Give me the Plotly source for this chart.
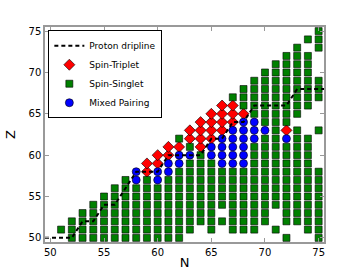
import plotly.graph_objects as go

# ---- data ----
# Spin-Singlet (green squares): Z values per neutron number N
singlet_N = [51, 52, 53, 54, 55, 56, 57, 58, 59, 60, 61, 62, 63, 64, 65, 66, 67, 68, 69, 70, 71, 72, 73, 74, 75]
singlet_Z = [
    [51],
    [50, 51, 52],
    [50, 51, 52, 53],
    [50, 51, 52, 53, 54],
    [50, 51, 52, 53, 54, 55],
    [50, 51, 52, 53, 54, 55, 56],
    [50, 51, 52, 53, 54, 55, 56, 57],
    [50, 51, 52, 53, 54, 55, 56],
    [50, 51, 52, 53, 54, 55, 56, 57],
    [50, 51, 52, 53, 54, 55, 56],
    [50, 51, 52, 53, 54, 55, 56, 57],
    [50, 51, 52, 53, 54, 55, 56, 57, 58, 62],
    [51, 52, 53, 54, 55, 56, 57, 58, 59, 61],
    [52, 53, 54, 55, 56, 57, 58, 59, 60],
    [51, 52, 53, 54, 55, 56, 57, 58, 59],
    [52, 54, 55, 56, 57, 58],
    [51, 52, 53, 54, 55, 56, 57, 58, 67],
    [51, 52, 53, 54, 55, 56, 57, 58, 66, 67, 68],
    [51, 52, 53, 54, 55, 56, 57, 58, 59, 60, 61, 65, 66, 67, 68, 69],
    [52, 53, 54, 55, 56, 57, 58, 59, 60, 61, 62, 64, 65, 66, 67, 68, 69, 70],
    [51, 54, 55, 56, 57, 58, 59, 60, 61, 62, 63, 64, 65, 66, 67, 68, 69, 70, 71],
    [50, 52, 53, 54, 55, 56, 57, 58, 59, 60, 61, 64, 65, 66, 67, 68, 69, 70, 71, 72],
    [52, 53, 54, 55, 56, 57, 58, 59, 60, 61, 62, 63, 65, 66, 67, 68, 69, 70, 71, 72, 73],
    [51, 52, 53, 54, 55, 56, 57, 58, 59, 60, 61, 62, 66, 67, 68, 69, 70, 71, 72, 74],
    [50, 51, 52, 53, 54, 55, 56, 57, 58, 63, 67, 68, 69, 73, 74, 75],
]

# Spin-Triplet (red diamonds)
triplet_N = [59, 59, 60, 60, 61, 61, 62, 63, 63, 64, 64, 64, 64, 65, 65, 65, 65,
             66, 66, 66, 66, 67, 67, 67, 68, 72]
triplet_Z = [58, 59, 59, 60, 60, 61, 61, 62, 63, 61, 62, 63, 64, 62, 63, 64, 65,
             63, 64, 65, 66, 64, 65, 66, 65, 63]

# Mixed Pairing (blue circles)
mixed_N = [58, 58, 60, 60, 61, 61, 62, 62, 63, 65, 65, 66, 66, 66, 66,
           67, 67, 67, 67, 67, 68, 68, 68, 68, 68, 68, 69, 69, 69, 70, 72]
mixed_Z = [57, 58, 57, 58, 58, 59, 59, 60, 60, 60, 61, 59, 60, 61, 62,
           59, 60, 61, 62, 63, 59, 60, 61, 62, 63, 64, 62, 63, 64, 63, 62]

# Proton dripline (step-like dashed line)
drip_N = [49.5, 52, 53, 54, 55, 56, 58, 60, 61, 64, 65, 66, 67, 68, 69, 72, 73, 75.5]
drip_Z = [50, 50, 52, 52, 54, 54, 58, 58, 60, 60, 62, 62, 64, 64, 66, 66, 68, 68]

ticks = [50, 55, 60, 65, 70, 75]

sx, sy = [], []
for n, zs in zip(singlet_N, singlet_Z):
    for z in zs:
        sx.append(n)
        sy.append(z)

fig = go.Figure()
fig.add_trace(go.Scatter(
    x=triplet_N, y=triplet_Z, mode="markers", name="Spin-Triplet", legendrank=2,
    marker=dict(symbol="diamond", size=8.5, color="#ff0000", line=dict(color="black", width=0.6))))
fig.add_trace(go.Scatter(
    x=sx, y=sy, mode="markers", name="Spin-Singlet", legendrank=3,
    marker=dict(symbol="square", size=7, color="#008000", line=dict(color="black", width=0.6))))
fig.add_trace(go.Scatter(
    x=mixed_N, y=mixed_Z, mode="markers", name="Mixed Pairing", legendrank=4,
    marker=dict(symbol="circle", size=8, color="#0000ff", line=dict(color="black", width=0.6))))
fig.add_trace(go.Scatter(
    x=drip_N, y=drip_Z, mode="lines", name="Proton dripline", legendrank=1,
    line=dict(color="black", width=2, dash="4px,3px")))

axis_common = dict(
    showgrid=False, zeroline=False, showline=True, linecolor="#999999", linewidth=1.5,
    mirror="allticks", ticks="inside", ticklen=4, tickcolor="#999999",
    tickvals=ticks, ticktext=[str(t) for t in ticks], automargin=False,
    tickfont=dict(family="DejaVu Sans", size=10, color="black"),
)
fig.update_xaxes(range=[49.5, 75.5], title=dict(text="N", font=dict(family="DejaVu Sans", size=13, color="black"), standoff=3), **axis_common)
fig.update_yaxes(range=[49.5, 75.5], title=dict(text="Z", font=dict(family="DejaVu Sans", size=13, color="black"), standoff=10), **axis_common)

fig.update_layout(
    width=360, height=270,
    margin=dict(l=45, r=36, t=27, b=28),
    paper_bgcolor="white", plot_bgcolor="white",
    font=dict(family="DejaVu Sans", size=10, color="black"),
    legend=dict(x=0.012, y=0.985, xanchor="left", yanchor="top",
                bgcolor="white", bordercolor="black", borderwidth=1,
                font=dict(family="DejaVu Sans", size=9), itemwidth=30,
                tracegroupgap=0),
    showlegend=True,
)

fig.write_html("out.html", config={"displayModeBar": False},
               post_script="document.body.style.margin='0px';document.body.style.overflow='hidden';")
